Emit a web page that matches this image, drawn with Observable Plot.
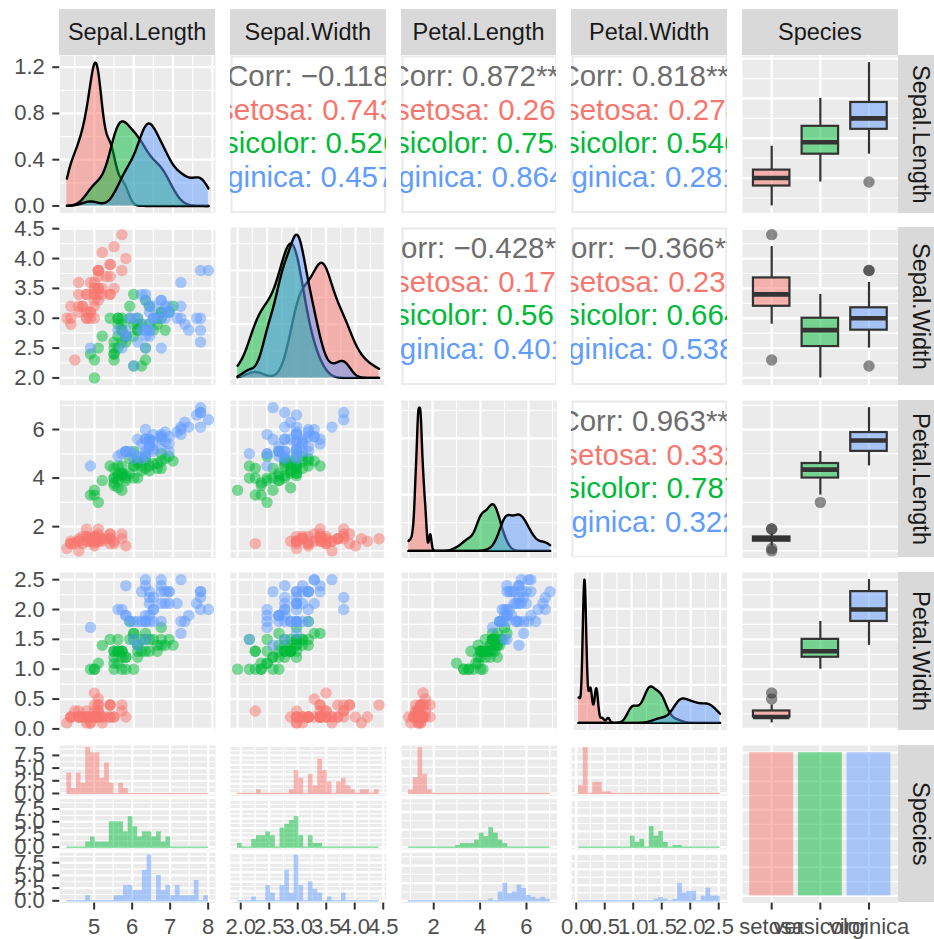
<!DOCTYPE html>
<html>
<head>
<meta charset="utf-8">
<script src="https://cdn.jsdelivr.net/npm/d3@7"></script>
<script src="https://cdn.jsdelivr.net/npm/@observablehq/plot@0.6"></script>
<style>
  body { margin: 0; background: #fff; }
  #chart { position: relative; width: 934px; height: 939px; overflow: hidden; background: #fff;
           font-family: "Liberation Sans", Arial, Helvetica, sans-serif; }
  .strip { position: absolute; background: #D9D9D9; color: #1A1A1A; font-size: 23.5px;
           display: flex; align-items: center; justify-content: center; white-space: nowrap; overflow: hidden; }
  .strip.right { writing-mode: vertical-rl; }
  svg text { white-space: pre; }
</style>
</head>
<body>
<div id="chart"></div>
<script>
// ---------------- data ----------------
const species = ["setosa", "versicolor", "virginica"];
const speciesColors = ["#F8766D", "#00BA38", "#619CFF"];
const variableNames = ["Sepal.Length", "Sepal.Width", "Petal.Length", "Petal.Width"];

const setosaSepalLength = [5.1,4.9,4.7,4.6,5.0,5.4,4.6,5.0,4.4,4.9,5.4,4.8,4.8,4.3,5.8,5.7,5.4,5.1,5.7,5.1,5.4,5.1,4.6,5.1,4.8,5.0,5.0,5.2,5.2,4.7,4.8,5.4,5.2,5.5,4.9,5.0,5.5,4.9,4.4,5.1,5.0,4.5,4.4,5.0,5.1,4.8,5.1,4.6,5.3,5.0];
const setosaSepalWidth = [3.5,3.0,3.2,3.1,3.6,3.9,3.4,3.4,2.9,3.1,3.7,3.4,3.0,3.0,4.0,4.4,3.9,3.5,3.8,3.8,3.4,3.7,3.6,3.3,3.4,3.0,3.4,3.5,3.4,3.2,3.1,3.4,4.1,4.2,3.1,3.2,3.5,3.6,3.0,3.4,3.5,2.3,3.2,3.5,3.8,3.0,3.8,3.2,3.7,3.3];
const setosaPetalLength = [1.4,1.4,1.3,1.5,1.4,1.7,1.4,1.5,1.4,1.5,1.5,1.6,1.4,1.1,1.2,1.5,1.3,1.4,1.7,1.5,1.7,1.5,1.0,1.7,1.9,1.6,1.6,1.5,1.4,1.6,1.6,1.5,1.5,1.4,1.5,1.2,1.3,1.4,1.3,1.5,1.3,1.3,1.3,1.6,1.9,1.4,1.6,1.4,1.5,1.4];
const setosaPetalWidth = [0.2,0.2,0.2,0.2,0.2,0.4,0.3,0.2,0.2,0.1,0.2,0.2,0.1,0.1,0.2,0.4,0.4,0.3,0.3,0.3,0.2,0.4,0.2,0.5,0.2,0.2,0.4,0.2,0.2,0.2,0.2,0.4,0.1,0.2,0.2,0.2,0.2,0.1,0.2,0.2,0.3,0.3,0.2,0.6,0.4,0.3,0.2,0.2,0.2,0.2];

const versicolorSepalLength = [7.0,6.4,6.9,5.5,6.5,5.7,6.3,4.9,6.6,5.2,5.0,5.9,6.0,6.1,5.6,6.7,5.6,5.8,6.2,5.6,5.9,6.1,6.3,6.1,6.4,6.6,6.8,6.7,6.0,5.7,5.5,5.5,5.8,6.0,5.4,6.0,6.7,6.3,5.6,5.5,5.5,6.1,5.8,5.0,5.6,5.7,5.7,6.2,5.1,5.7];
const versicolorSepalWidth = [3.2,3.2,3.1,2.3,2.8,2.8,3.3,2.4,2.9,2.7,2.0,3.0,2.2,2.9,2.9,3.1,3.0,2.7,2.2,2.5,3.2,2.8,2.5,2.8,2.9,3.0,2.8,3.0,2.9,2.6,2.4,2.4,2.7,2.7,3.0,3.4,3.1,2.3,3.0,2.5,2.6,3.0,2.6,2.3,2.7,3.0,2.9,2.9,2.5,2.8];
const versicolorPetalLength = [4.7,4.5,4.9,4.0,4.6,4.5,4.7,3.3,4.6,3.9,3.5,4.2,4.0,4.7,3.6,4.4,4.5,4.1,4.5,3.9,4.8,4.0,4.9,4.7,4.3,4.4,4.8,5.0,4.5,3.5,3.8,3.7,3.9,5.1,4.5,4.5,4.7,4.4,4.1,4.0,4.4,4.6,4.0,3.3,4.2,4.2,4.2,4.3,3.0,4.1];
const versicolorPetalWidth = [1.4,1.5,1.5,1.3,1.5,1.3,1.6,1.0,1.3,1.4,1.0,1.5,1.0,1.4,1.3,1.4,1.5,1.0,1.5,1.1,1.8,1.3,1.5,1.2,1.3,1.4,1.4,1.7,1.5,1.0,1.1,1.0,1.2,1.6,1.5,1.6,1.5,1.3,1.3,1.3,1.2,1.4,1.2,1.0,1.3,1.2,1.3,1.3,1.1,1.3];

const virginicaSepalLength = [6.3,5.8,7.1,6.3,6.5,7.6,4.9,7.3,6.7,7.2,6.5,6.4,6.8,5.7,5.8,6.4,6.5,7.7,7.7,6.0,6.9,5.6,7.7,6.3,6.7,7.2,6.2,6.1,6.4,7.2,7.4,7.9,6.4,6.3,6.1,7.7,6.3,6.4,6.0,6.9,6.7,6.9,5.8,6.8,6.7,6.7,6.3,6.5,6.2,5.9];
const virginicaSepalWidth = [3.3,2.7,3.0,2.9,3.0,3.0,2.5,2.9,2.5,3.6,3.2,2.7,3.0,2.5,2.8,3.2,3.0,3.8,2.6,2.2,3.2,2.8,2.8,2.7,3.3,3.2,2.8,3.0,2.8,3.0,2.8,3.8,2.8,2.8,2.6,3.0,3.4,3.1,3.0,3.1,3.1,3.1,2.7,3.2,3.3,3.0,2.5,3.0,3.4,3.0];
const virginicaPetalLength = [6.0,5.1,5.9,5.6,5.8,6.6,4.5,6.3,5.8,6.1,5.1,5.3,5.5,5.0,5.1,5.3,5.5,6.7,6.9,5.0,5.7,4.9,6.7,4.9,5.7,6.0,4.8,4.9,5.6,5.8,6.1,6.4,5.6,5.1,5.6,6.1,5.6,5.5,4.8,5.4,5.6,5.1,5.1,5.9,5.7,5.2,5.0,5.2,5.4,5.1];
const virginicaPetalWidth = [2.5,1.9,2.1,1.8,2.2,2.1,1.7,1.8,1.8,2.5,2.0,1.9,2.1,2.0,2.4,2.3,1.8,2.2,2.3,1.5,2.3,2.0,2.0,1.8,2.1,1.8,1.8,1.8,2.1,1.6,1.9,2.0,2.2,1.5,1.4,2.3,2.4,1.8,1.8,2.1,2.4,2.3,1.9,2.3,2.5,2.3,1.9,2.0,2.3,1.8];

// correlation labels (upper panels), pairs in order (row var, col var)
const corrPairs = [[0,1],[0,2],[0,3],[1,2],[1,3],[2,3]];
const corrTotal = ["−0.118", "0.872***", "0.818***", "−0.428***", "−0.366***", "0.963***"];
const corrSetosa = ["0.743***", "0.267.", "0.278.", "0.178", "0.233", "0.332*"];
const corrVersicolor = ["0.526***", "0.754***", "0.546***", "0.561***", "0.664***", "0.787***"];
const corrVirginica = ["0.457***", "0.864***", "0.281*", "0.401**", "0.538***", "0.322*"];

// ---------------- layout ----------------
const W = 934, H = 939;
const colX = [59.3, 230, 400.7, 571.3, 742], pw = 155.7;
const rowY = [55, 227.4, 399.8, 572.2, 744.6], ph = 157.6;
const FONT = "'Liberation Sans', Arial, Helvetica, sans-serif";
const BG = "#EBEBEB";
const GRID_MAJ = 2.3, GRID_MIN = 1.15;
const TITLE_GREY = "#6E6E6E";

const varValues = [
  [setosaSepalLength, versicolorSepalLength, virginicaSepalLength],
  [setosaSepalWidth, versicolorSepalWidth, virginicaSepalWidth],
  [setosaPetalLength, versicolorPetalLength, virginicaPetalLength],
  [setosaPetalWidth, versicolorPetalWidth, virginicaPetalWidth]
];
const table = [];
species.forEach((s, si) => {
  for (let i = 0; i < varValues[0][si].length; i++) {
    const row = {species: s};
    variableNames.forEach((v, vi) => row[v] = varValues[vi][si][i]);
    table.push(row);
  }
});

// ---------------- helpers ----------------
const expand = ([a, b], f = 0.05) => [a - f * (b - a), b + f * (b - a)];
const allVals = v => varValues[v].flat();

// Wilkinson extended labelling (as used by ggplot2 / scales)
function extended(dmin, dmax, m = 5) {
  const Q = [1, 5, 2, 2.5, 4, 3], w = [0.25, 0.2, 0.5, 0.05], eps = 1e-10, n = Q.length;
  const mod = (a, b) => ((a % b) + b) % b;
  const simplicity = (i, j, lmin, lmax, lstep) => {
    const r = mod(lmin, lstep);
    const v = ((r < eps || lstep - r < eps) && lmin <= 0 && lmax >= 0) ? 1 : 0;
    return 1 - i / (n - 1) - j + v;
  };
  const simplicityMax = (i, j) => 1 - i / (n - 1) - j + 1;
  const range = dmax - dmin;
  const coverage = (lmin, lmax) => 1 - 0.5 * ((dmax - lmax) ** 2 + (dmin - lmin) ** 2) / ((0.1 * range) ** 2);
  const coverageMax = span => {
    if (span > range) { const half = (span - range) / 2; return 1 - 0.5 * (2 * half * half) / ((0.1 * range) ** 2); }
    return 1;
  };
  const density = (k, lmin, lmax) => {
    const r = (k - 1) / (lmax - lmin);
    const rt = (m - 1) / (Math.max(lmax, dmax) - Math.min(dmin, lmin));
    return 2 - Math.max(r / rt, rt / r);
  };
  const densityMax = k => k >= m ? 2 - (k - 1) / (m - 1) : 1;
  let best = null, bestScore = -2;
  let j = 1;
  outer: while (true) {
    for (let qi = 0; qi < n; qi++) {
      const q = Q[qi];
      const sm = simplicityMax(qi, j);
      if (w[0] * sm + w[1] + w[2] + w[3] < bestScore) break outer;
      let k = 2;
      while (true) {
        const dm = densityMax(k);
        if (w[0] * sm + w[1] + w[2] * dm + w[3] < bestScore) break;
        const delta = range / (k + 1) / j / q;
        let z = Math.ceil(Math.log10(delta));
        while (true) {
          const step = j * q * Math.pow(10, z);
          const cm = coverageMax(step * (k - 1));
          if (w[0] * sm + w[1] * cm + w[2] * dm + w[3] < bestScore) break;
          const minStart = Math.floor(dmax / step) * j - (k - 1) * j;
          const maxStart = Math.ceil(dmin / step) * j;
          if (minStart > maxStart) { z++; continue; }
          for (let start = minStart; start <= maxStart; start++) {
            const lmin = start * (step / j), lmax = lmin + step * (k - 1);
            const score = w[0] * simplicity(qi, j, lmin, lmax, step) + w[1] * coverage(lmin, lmax)
                        + w[2] * density(k, lmin, lmax) + w[3];
            if (score > bestScore) { bestScore = score; best = {lmin, k, step}; }
          }
          z++;
        }
        k++;
      }
    }
    j++;
  }
  return d3.range(best.k).map(i => +(best.lmin + i * best.step).toFixed(10));
}

function breaksFor([lo, hi]) {
  const major = extended(lo, hi).filter(v => v >= lo - 1e-9 && v <= hi + 1e-9);
  const b = major.slice();
  const bd = b[1] - b[0];
  if (lo < b[0]) b.unshift(b[0] - bd);
  if (hi > b[b.length - 1]) b.push(b[b.length - 1] + bd);
  const minor = [];
  for (let i = 0; i < b.length - 1; i++) minor.push((b[i] + b[i + 1]) / 2);
  return {major, minor: minor.filter(v => v >= lo && v <= hi)};
}

function fmtFor(ticks) {
  const dec = d3.max(ticks, t => { const s = String(+t.toFixed(8)); const i = s.indexOf("."); return i < 0 ? 0 : s.length - i - 1; });
  return t => t.toFixed(dec);
}

function bwNrd0(a) {
  const s = d3.sort(a);
  const hi = d3.deviation(a);
  let lo = Math.min(hi, (d3.quantileSorted(s, 0.75) - d3.quantileSorted(s, 0.25)) / 1.34);
  if (!(lo > 0)) lo = hi || Math.abs(s[0]) || 1;
  return 0.9 * lo * Math.pow(a.length, -0.2);
}
function kde(values, from, to, n = 512) {
  const h = bwNrd0(values);
  const c = 1 / (values.length * h * Math.sqrt(2 * Math.PI));
  return d3.range(n).map(i => {
    const x = from + (to - from) * i / (n - 1);
    let s = 0;
    for (const v of values) { const u = (x - v) / h; s += Math.exp(-0.5 * u * u); }
    return {x, y: s * c};
  });
}

function boxStats(vals) {
  const s = d3.sort(vals);
  const q1 = d3.quantileSorted(s, 0.25), med = d3.quantileSorted(s, 0.5), q3 = d3.quantileSorted(s, 0.75);
  const iqr = q3 - q1, f1 = q1 - 1.5 * iqr, f2 = q3 + 1.5 * iqr;
  const inside = s.filter(v => v >= f1 && v <= f2);
  return {q1, med, q3, lo: d3.min(inside), hi: d3.max(inside), out: s.filter(v => v < f1 || v > f2)};
}

function gridMarks(xb, yb) {
  const m = [];
  if (xb && xb.minor.length) m.push(Plot.ruleX(xb.minor, {stroke: "#fff", strokeWidth: GRID_MIN}));
  if (yb && yb.minor.length) m.push(Plot.ruleY(yb.minor, {stroke: "#fff", strokeWidth: GRID_MIN}));
  if (xb) m.push(Plot.ruleX(xb.major, {stroke: "#fff", strokeWidth: GRID_MAJ}));
  if (yb) m.push(Plot.ruleY(yb.major, {stroke: "#fff", strokeWidth: GRID_MAJ}));
  return m;
}

const axisStyle = {tickSize: 7, stroke: "#333333", strokeWidth: 2, fill: "#4D4D4D", fontSize: 22, label: null};
const leftAxis = ticks => Plot.axisY(ticks, {...axisStyle, tickPadding: 8, tickFormat: fmtFor(ticks)});
const bottomAxis = (ticks, fmt) => Plot.axisX(ticks, {...axisStyle, tickPadding: 8, tickFormat: fmt || fmtFor(ticks)});

const chart = document.getElementById("chart");

function place(r, c, opts, overflow = "visible") {
  const mL = c === 0 ? colX[0] : 0;
  const mB = r === 4 ? H - (rowY[4] + ph) : 0;
  const svg = Plot.plot({
    width: pw + mL, height: ph + mB,
    marginTop: 0, marginRight: 0, marginBottom: mB, marginLeft: mL,
    style: {fontFamily: FONT, background: "transparent", overflow},
    color: {domain: species, range: speciesColors},
    ...opts,
    x: {axis: null, ...opts.x},
    y: {axis: null, ...opts.y}
  });
  svg.style.position = "absolute";
  svg.style.left = (c === 0 ? 0 : colX[c]) + "px";
  svg.style.top = rowY[r] + "px";
  chart.appendChild(svg);
}

const varDomain = variableNames.map((_, v) => expand(d3.extent(allVals(v))));
const varBreaks = varDomain.map(d => breaksFor(d));

// ---------------- panels ----------------
for (let r = 0; r < 5; r++) {
  for (let c = 0; c < 5; c++) {
    if (r < 4 && c < 4 && r > c) {
      // scatter
      const marks = [Plot.frame({fill: BG}), ...gridMarks(varBreaks[c], varBreaks[r]),
        Plot.dot(table, {x: variableNames[c], y: variableNames[r], fill: "species", fillOpacity: 0.5, r: 5.7, clip: true})];
      if (c === 0) marks.push(leftAxis(varBreaks[r].major));
      place(r, c, {x: {domain: varDomain[c]}, y: {domain: varDomain[r]}, marks});
    } else if (r < 4 && r === c) {
      // density diagonal
      const [lo, hi] = d3.extent(allVals(r));
      const dens = species.map((s, si) => kde(varValues[r][si], lo, hi));
      const M = d3.max(dens.flat(), d => d.y);
      const yDom = expand([0, M]);
      const yb = breaksFor(yDom);
      const marks = [Plot.frame({fill: BG}), ...gridMarks(varBreaks[r], yb)];
      dens.forEach((d, si) => {
        marks.push(Plot.areaY(d, {x: "x", y: "y", fill: speciesColors[si], fillOpacity: 0.5}));
        marks.push(Plot.lineY(d, {x: "x", y: "y", stroke: "black", strokeWidth: 2.4}));
      });
      if (c === 0) marks.push(leftAxis(yb.major));
      place(r, c, {x: {domain: varDomain[r]}, y: {domain: yDom}, marks});
    } else if (r < c && c < 4) {
      // correlation text
      const k = corrPairs.findIndex(([a, b]) => a === r && b === c);
      const [xlo, xhi] = d3.extent(allVals(c));
      const [ylo, yhi] = d3.extent(allVals(r));
      const xPos = xlo + 0.5 * (xhi - xlo);
      const yFr = [0.9, ...d3.range(1, 4).map(i => 0.9 - i * (0.7 / 3))];
      const vals = [corrSetosa[k], corrVersicolor[k], corrVirginica[k]];
      const vw = d3.max(vals, s => s.length), lw = d3.max(species, s => s.length);
      const lines = [{t: `Corr: ${corrTotal[k]}`, col: TITLE_GREY}]
        .concat(species.map((s, i) => ({t: `${s.padStart(lw)}: ${vals[i].padEnd(vw)}`, col: speciesColors[i]})));
      const marks = [Plot.frame({fill: "white", stroke: BG, strokeWidth: 2.2, inset: 1})];
      lines.forEach((L, i) => {
        marks.push(Plot.text([L], {x: () => xPos, y: () => ylo + yFr[i] * (yhi - ylo), text: d => d.t,
          fill: L.col, fontSize: 29.5, textAnchor: "middle", lineAnchor: "middle"}));
      });
      place(r, c, {x: {domain: varDomain[c]}, y: {domain: varDomain[r]}, marks}, "hidden");
    } else if (r < 4 && c === 4) {
      // box plots
      const stats = species.map((s, si) => ({species: s, ...boxStats(varValues[r][si])}));
      const outl = stats.flatMap(st => st.out.map(v => ({species: st.species, v})));
      const marks = [Plot.frame({fill: BG}), ...gridMarks({major: species, minor: []}, varBreaks[r]),
        Plot.ruleX(stats, {x: "species", y1: "lo", y2: "q1", stroke: "#333333", strokeWidth: 2.2}),
        Plot.ruleX(stats, {x: "species", y1: "q3", y2: "hi", stroke: "#333333", strokeWidth: 2.2}),
        Plot.barY(stats, {x: "species", y1: "q1", y2: "q3", fill: "species", fillOpacity: 0.5, stroke: "#333333", strokeWidth: 2.2}),
        Plot.tickY(stats, {x: "species", y: "med", stroke: "#333333", strokeWidth: 4.6}),
        Plot.dot(outl, {x: "species", y: "v", r: 5.7, fill: "#333333", fillOpacity: 0.55})];
      place(r, c, {x: {type: "band", domain: species, paddingInner: 0.25, paddingOuter: 0.225, round: false},
                   y: {domain: varDomain[r]}, marks});
    } else if (r === 4 && c < 4) {
      // faceted histograms
      const vals = allVals(c);
      const [lo, hi] = d3.extent(vals);
      const bw = (hi - lo) / 29, boundary = bw / 2;
      const origin = boundary + Math.floor((lo - boundary) / bw) * bw;
      const maxX = hi + (1 - 1e-8) * bw;
      const nb = Math.floor((maxX - origin) / bw + 1e-10) + 1;
      const breaks = d3.range(nb).map(i => origin + i * bw);
      const fuzz = 1e-8 * bw;
      const bins = [];
      species.forEach((s, si) => {
        const counts = new Array(nb - 1).fill(0);
        for (const v of varValues[c][si]) {
          for (let kk = 0; kk < nb - 1; kk++) {
            const left = kk === 0 ? breaks[0] - fuzz : breaks[kk] + fuzz;
            if (v > left && v <= breaks[kk + 1] + fuzz) { counts[kk]++; break; }
          }
        }
        counts.forEach((cnt, kk) => bins.push({species: s, x1: breaks[kk], x2: breaks[kk + 1], count: cnt}));
      });
      const baselines = species.map(s => ({species: s, x1: breaks[0], x2: breaks[nb - 1], y: 0}));
      const xDom = expand([breaks[0], breaks[nb - 1]]);
      const xb = breaksFor(xDom);
      const yDom = expand([0, d3.max(bins, d => d.count)]);
      const yb = breaksFor(yDom);
      const marks = [Plot.frame({fill: BG}), ...gridMarks(xb, yb),
        Plot.rectY(bins, {x1: "x1", x2: "x2", y: "count", fy: "species", fill: "species", fillOpacity: 0.5}),
        Plot.ruleY(baselines, {x1: "x1", x2: "x2", y: "y", fy: "species", stroke: "species", strokeOpacity: 0.6, strokeWidth: 1.2}),
        bottomAxis(xb.major)];
      if (c === 0) marks.push(leftAxis(yb.major));
      place(r, c, {x: {domain: xDom}, y: {domain: yDom},
                   fy: {domain: species, paddingInner: 0.0634, paddingOuter: 0, axis: null, round: false}, marks});
    } else {
      // species bar chart
      const counts = species.map((s, si) => ({species: s, count: varValues[0][si].length}));
      const yDom = expand([0, d3.max(counts, d => d.count)]);
      const yb = breaksFor(yDom);
      const marks = [Plot.frame({fill: BG}), ...gridMarks({major: species, minor: []}, yb),
        Plot.barY(counts, {x: "species", y: "count", fill: "species", fillOpacity: 0.5}),
        bottomAxis(species, d => d)];
      place(r, c, {x: {type: "band", domain: species, paddingInner: 0.1, paddingOuter: 0.15, round: false},
                   y: {domain: yDom}, marks});
    }
  }
}

// ---------------- strips ----------------
const stripNames = variableNames.concat(["Species"]);
stripNames.forEach((name, c) => {
  const d = document.createElement("div");
  d.className = "strip";
  Object.assign(d.style, {left: colX[c] + "px", top: "9.3px", width: pw + "px", height: "45.7px"});
  d.textContent = name;
  chart.appendChild(d);
});
stripNames.forEach((name, r) => {
  const d = document.createElement("div");
  d.className = "strip right";
  Object.assign(d.style, {left: (colX[4] + pw) + "px", top: rowY[r] + "px", width: "45.7px", height: ph + "px"});
  d.textContent = name;
  chart.appendChild(d);
});
</script>
</body>
</html>
